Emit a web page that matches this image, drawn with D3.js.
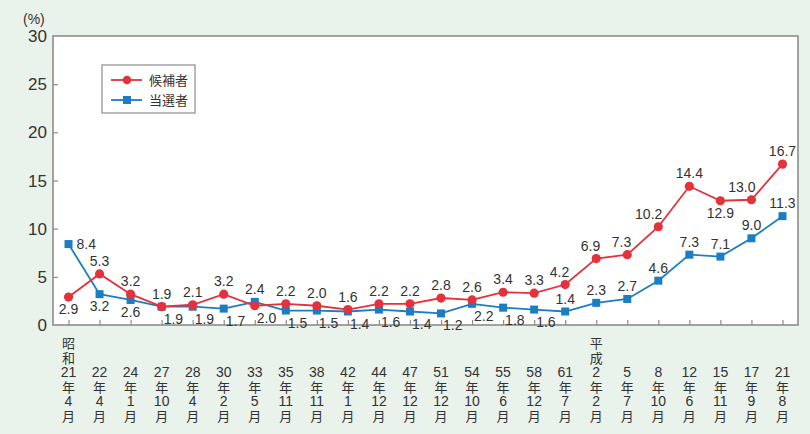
<!DOCTYPE html>
<html>
<head>
<meta charset="utf-8">
<script src="https://cdn.jsdelivr.net/npm/d3@7"></script>
<style>
  body { margin: 0; background: #eaf2ec; }
  svg { display: block; }
  text { font-family: "Liberation Sans", Arial, "Noto Sans CJK JP", sans-serif; fill: #333; }
  .jp { font-family: "Noto Sans CJK JP", sans-serif; }
</style>
</head>
<body>
<div id="graph"></div>
<script>
// tick labels (era / year / month)
var eras = ["昭和","","","","","","","","","","","","","","","","","平成","","","","","",""];
var years = ["21","22","24","27","28","30","33","35","38","42","44","47","51","54","55","58","61","2","5","8","12","15","17","21"];
var months = ["4","4","1","10","4","2","5","11","11","1","12","12","12","10","6","12","7","2","7","10","6","11","9","8"];

// series values (%)
var candidates = [2.9,5.3,3.2,1.9,2.1,3.2,2.0,2.2,2.0,1.6,2.2,2.2,2.8,2.6,3.4,3.3,4.2,6.9,7.3,10.2,14.4,12.9,13.0,16.7];
var elected = [8.4,3.2,2.6,1.9,1.9,1.7,2.4,1.5,1.5,1.4,1.6,1.4,1.2,2.2,1.8,1.6,1.4,2.3,2.7,4.6,7.3,7.1,9.0,11.3];

var seriesNames = ["候補者","当選者"];
var yTicks = [0,5,10,15,20,25,30];

// where the value label sits: t=top, tl=top left, b=bottom, br=bottom right, r=right
var candPlace = ["b","t","t","t","t","t","br","t","t","t","t","t","t","t","t","t","tl","tl","tl","tl","t","b","tl","t"];
var electPlace = ["r","b","b","br","br","br","t","br","br","br","br","br","br","br","br","br","t","t","t","t","t","t","t","t"];

var width = 810, height = 434;
var pLeft = 53, pRight = 798, pTop = 36, pBottom = 325;
var red = "#e3323c", blue = "#1b7ec2";

var svg = d3.select("#graph").append("svg").attr("width", width).attr("height", height);

var keys = d3.range(years.length);
var x = d3.scalePoint().domain(keys).range([pLeft, pRight]).padding(0.5);
var y = d3.scaleLinear().domain([0, 30]).range([pBottom, pTop]);

// plot area
svg.append("rect").attr("x", pLeft).attr("y", pTop).attr("width", pRight - pLeft).attr("height", pBottom - pTop)
  .attr("fill", "#fff").attr("stroke", "#8c8c8c").attr("stroke-width", 1.6);

// y axis ticks (inside)
var yAxis = svg.append("g").attr("transform", "translate(" + pLeft + ",0)")
  .call(d3.axisRight(y).tickValues(yTicks.slice(1, -1)).tickSize(5).tickFormat(""));
yAxis.select(".domain").remove();
yAxis.selectAll("line").attr("stroke", "#8c8c8c").attr("stroke-width", 1.2);

svg.selectAll(".ylab").data(yTicks).enter().append("text")
  .attr("x", pLeft - 6).attr("y", function(d){ return y(d); })
  .attr("dy", "0.36em").attr("text-anchor", "end").style("font-size", "17px")
  .text(function(d){ return d; });

svg.append("text").attr("x", 23).attr("y", 24).style("font-size", "14px").text("(%)");

// x axis ticks (inside, pointing up)
var xAxis = svg.append("g").attr("transform", "translate(0," + pBottom + ")")
  .call(d3.axisTop(x).tickSize(5).tickFormat(""));
xAxis.select(".domain").remove();
xAxis.selectAll("line").attr("stroke", "#8c8c8c").attr("stroke-width", 1.2);

// x labels, stacked vertically, bottom aligned
var step = 14.5, baseY = 420.5;
keys.forEach(function(i){
  var lines = eras[i].split("").concat([years[i], "年", months[i], "月"]);
  var g = svg.append("text").attr("text-anchor", "middle").style("font-size", "13px");
  lines.forEach(function(s, k){
    g.append("tspan").attr("x", x(i)).attr("y", baseY - (lines.length - 1 - k) * step)
      .attr("class", /\d/.test(s) ? null : "jp").style("font-size", /\d/.test(s) ? "14px" : "13px")
      .text(s);
  });
});

// lines
var line = d3.line().x(function(d, i){ return x(i); }).y(function(d){ return y(d); });

svg.append("path").datum(elected).attr("d", line).attr("fill", "none").attr("stroke", blue).attr("stroke-width", 1.8);
svg.append("path").datum(candidates).attr("d", line).attr("fill", "none").attr("stroke", red).attr("stroke-width", 1.8);

svg.selectAll(".sq").data(elected).enter().append("rect")
  .attr("x", function(d, i){ return x(i) - 4; }).attr("y", function(d){ return y(d) - 4; })
  .attr("width", 8).attr("height", 8).attr("fill", blue);

svg.selectAll(".dot").data(candidates).enter().append("circle")
  .attr("cx", function(d, i){ return x(i); }).attr("cy", function(d){ return y(d); })
  .attr("r", 4.6).attr("fill", red);

// value labels
var place = function(arr, pl){
  svg.selectAll(null).data(arr).enter().append("text")
    .style("font-size", "14px")
    .attr("text-anchor", function(d, i){
      var p = pl[i];
      if (p == "tl") return "end";
      if (p == "br" || p == "r") return "start";
      return "middle";
    })
    .attr("x", function(d, i){
      var p = pl[i];
      if (p == "tl") return x(i) + 4;
      if (p == "br") return x(i) + 2;
      if (p == "r") return x(i) + 8;
      return x(i);
    })
    .attr("y", function(d, i){
      var p = pl[i];
      if (p == "b" || p == "br") return y(d) + 17;
      if (p == "r") return y(d) + 5;
      return y(d) - 8;
    })
    .text(function(d){ return d.toFixed(1); });
};
place(candidates, candPlace);
place(elected, electPlace);

// legend
var lg = svg.append("g").attr("transform", "translate(102,65)");
lg.append("rect").attr("width", 93).attr("height", 48).attr("fill", "#fff").attr("stroke", "#8c8c8c").attr("stroke-width", 1.2);
[red, blue].forEach(function(c, k){
  var ly = 15 + k * 20;
  lg.append("line").attr("x1", 9).attr("x2", 40).attr("y1", ly).attr("y2", ly).attr("stroke", c).attr("stroke-width", 1.8);
  if (k == 0) lg.append("circle").attr("cx", 25).attr("cy", ly).attr("r", 4.3).attr("fill", c);
  else lg.append("rect").attr("x", 21).attr("y", ly - 4).attr("width", 8).attr("height", 8).attr("fill", c);
  lg.append("text").attr("class", "jp").attr("x", 47).attr("y", ly).attr("dy", "0.35em")
    .style("font-size", "13px").text(seriesNames[k]);
});
</script>
</body>
</html>
